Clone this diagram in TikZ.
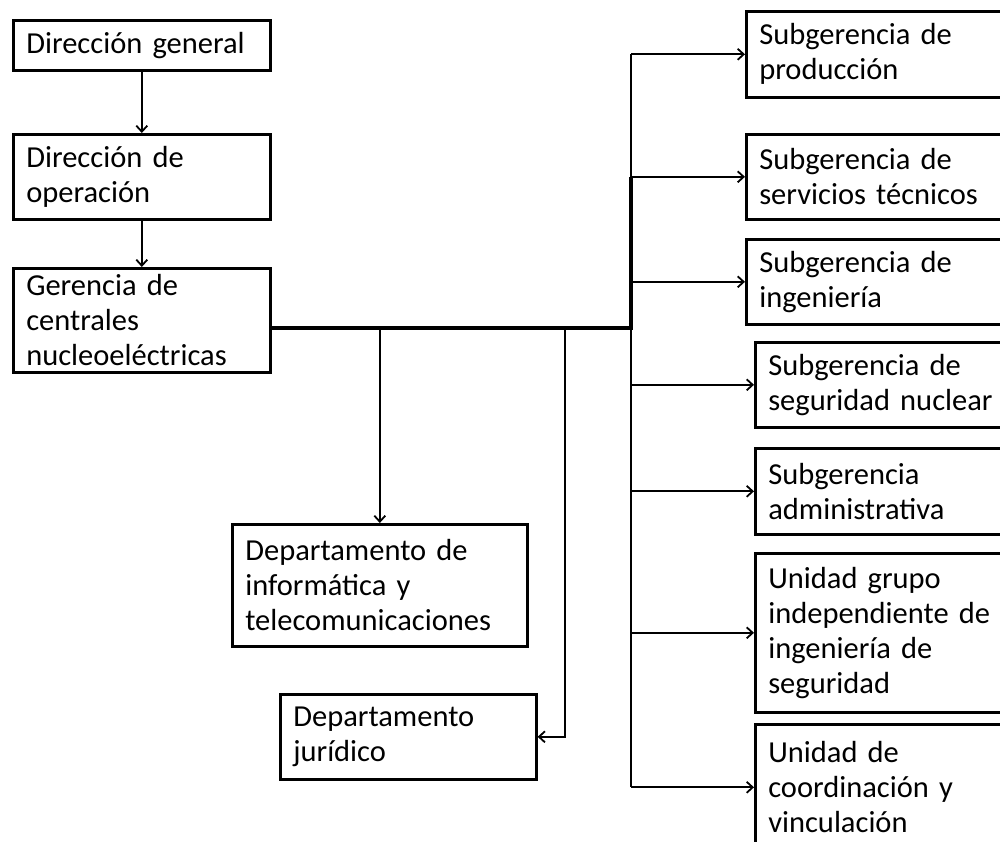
\documentclass[tikz,border=0pt]{standalone}
\usepackage{fontspec}
\setmainfont{Carlito}
\usetikzlibrary{arrows.meta}
\newcommand\letracaja{\fontsize{30.5}{35}\selectfont\fontdimen2\font=4pt\relax}
\tikzset{
  caja/.style={draw,line width=2.6pt,rectangle,anchor=north west,align=left,
    inner xsep=13pt,inner ysep=0pt,font=\letracaja},
  flecha/.style={->,>={Straight Barb[length=6pt,width=11pt]},line width=1.8pt},
}
\begin{document}
\begin{tikzpicture}[x=1pt,y=-1pt]
        \clip (0,0) rectangle (1000,841); %marco
        % columna izquierda
        \node[caja,text width=231pt,minimum height=50pt] (dg) at (12,19) {Dirección general};
        \node[caja,text width=231pt,minimum height=85pt] (dop) at (12,133) {Dirección de\\operación};
        \node[caja,text width=231pt,minimum height=104pt] (gcn) at (12,267) {Gerencia de\\centrales\\nucleoeléctricas};
        % departamentos
        \node[caja,text width=269pt,minimum height=122pt] (inf) at (231,523) {Departamento de\\informática y\\telecomunicaciones};
        \node[caja,text width=230pt,minimum height=85pt] (jur) at (279,693) {Departamento\\jurídico};
        % columna derecha
        \node[caja,text width=239pt,minimum height=86pt] (prod) at (745,10) {Subgerencia de\\producción};
        \node[caja,text width=239pt,minimum height=85pt] (serv) at (745,133) {Subgerencia de\\servicios técnicos};
        \node[caja,text width=239pt,minimum height=85pt] (ing) at (745,238) {Subgerencia de\\ingeniería};
        \node[caja,text width=230pt,minimum height=85pt] (seg) at (754,341) {Subgerencia de\\seguridad nuclear};
        \node[caja,text width=230pt,minimum height=86pt] (adm) at (754,447) {Subgerencia\\administrativa};
        \node[caja,text width=230pt,minimum height=159pt] (ugi) at (754,552) {Unidad grupo\\independiente de\\ingeniería de\\seguridad};
        \node[caja,text width=230pt,minimum height=126pt] (ucv) at (754,723) {Unidad de\\coordinación y\\vinculación};
        % lineas
        \coordinate (bus) at (631,328); %bus principal
        \coordinate (bj) at (565,328); %bajada a juridico
        \draw[flecha] (dg) -- (dop);
        \draw[flecha] (dop) -- (gcn);
        \draw[line width=3.4pt] (gcn.east |- bus) -- (bus) -- (bus |- serv.west); %tramo grueso
        \draw[line width=1.8pt] (bus |- prod.west) -- (bus |- ucv.west); %tronco
        \foreach \n in {prod,serv,ing,seg,adm,ugi,ucv}
          \draw[flecha] (bus |- \n.west) -- (\n.west);
        \draw[flecha] (bus -| inf.north) -- (inf.north);
        \draw[flecha] (bj) |- (jur.east);
\end{tikzpicture}
\end{document}
